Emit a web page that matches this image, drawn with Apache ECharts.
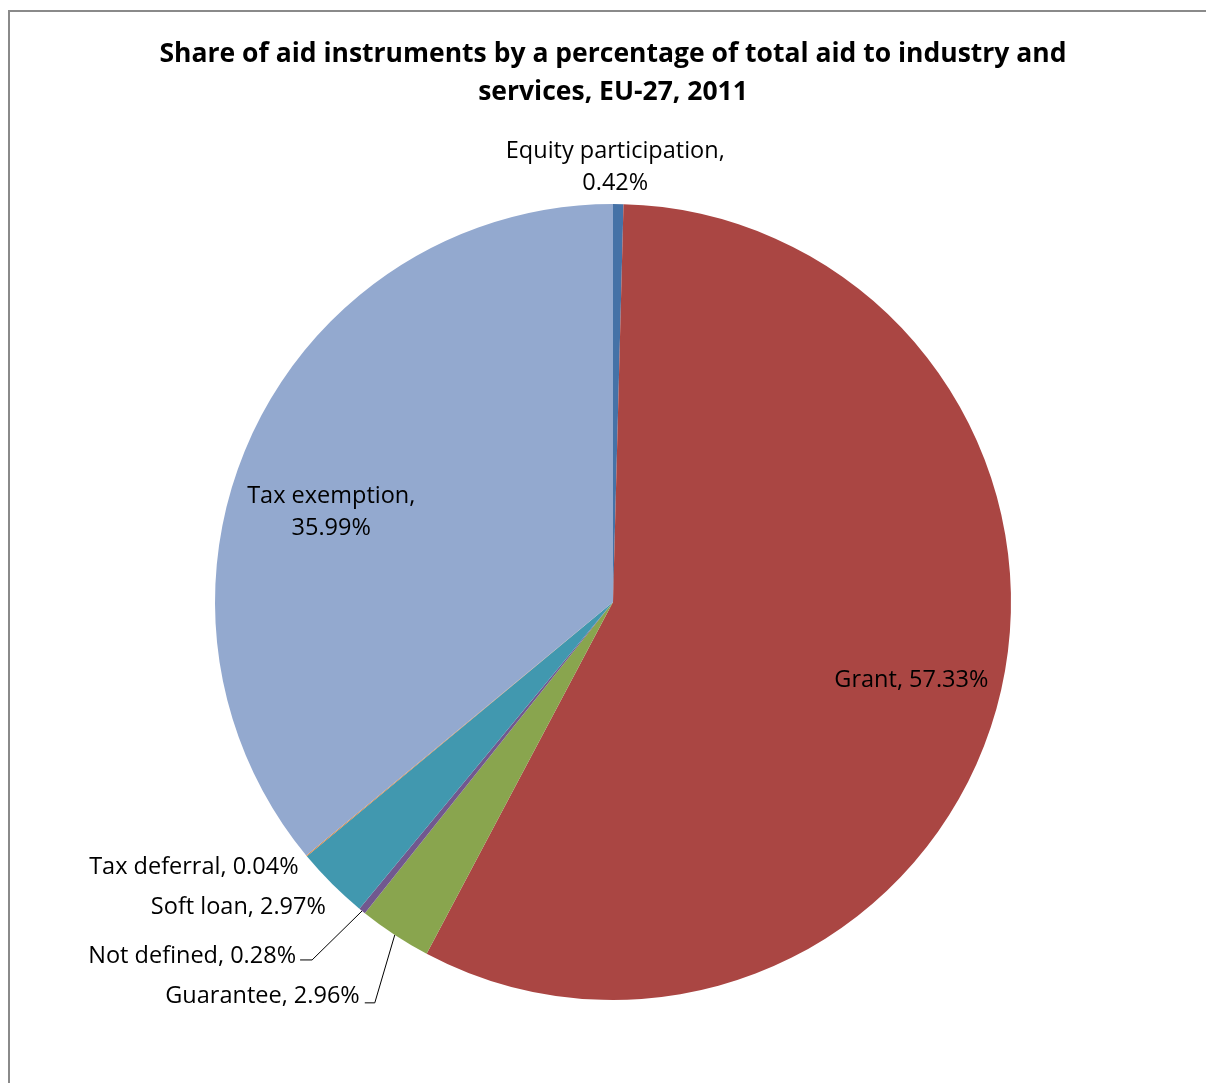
<!DOCTYPE html>
<html>
<head>
<meta charset="utf-8">
<script src="https://cdn.jsdelivr.net/npm/echarts@6/dist/echarts.min.js"></script>
<style>
html,body{margin:0;padding:0;background:#fff;}
#chart{width:1206px;height:1083px;}
</style>
</head>
<body>
<div id="chart"></div>
<script>
const categories = ['Equity participation', 'Grant', 'Guarantee', 'Not defined', 'Soft loan', 'Tax deferral', 'Tax exemption'];
const shares = [0.42, 57.33, 2.96, 0.28, 2.97, 0.04, 35.99];
const sliceColors = ['#4572A7', '#AA4643', '#89A54E', '#71588F', '#4198AF', '#DB843D', '#93A9CF'];
const titleText = 'Share of aid instruments by a percentage of total aid to industry and\nservices, EU-27, 2011';

// label placement relative to the slice's outer edge point (library computed)
const outsidePlace = {
  0: { dx: -3, dy: -5, align: 'center', va: 'bottom' },
  2: { line: [[-20, 68], [-30, 68]], dx: -35, dy: 61, align: 'right', va: 'middle' },
  3: { line: [[-50, 49], [-62, 49]], dx: -66, dy: 45, align: 'right', va: 'middle' },
  4: { dx: -6, dy: 24, align: 'right', va: 'middle' },
  5: { dx: -8, dy: 11, align: 'right', va: 'middle' }
};
const insideShift = {
  1: { dx: 103, dy: 27 },
  6: { dx: -99, dy: -4 }
};

const chart = echarts.init(document.getElementById('chart'), null, { renderer: 'canvas' });

const data = categories.map((name, i) => {
  const inside = insideShift[i] != null;
  const place = outsidePlace[i];
  return {
    name: name,
    value: shares[i],
    itemStyle: { color: sliceColors[i] },
    label: {
      position: inside ? 'inside' : 'outside',
      formatter: (i === 0 || i === 6) ? '{b},\n{c}%' : '{b}, {c}%'
    },
    labelLine: {
      show: !inside,
      length: 10,
      length2: 5,
      lineStyle: { color: '#000', width: 1, opacity: (place && place.line) ? 1 : 0 }
    }
  };
});

chart.setOption({
  backgroundColor: '#ffffff',
  animation: false,
  title: {
    text: titleText,
    left: 608,
    textAlign: 'center',
    top: 30,
    textStyle: {
      fontFamily: 'Open Sans',
      fontWeight: 'bold',
      fontSize: 26.5,
      lineHeight: 38,
      color: '#000'
    }
  },
  graphic: [{
    type: 'rect',
    shape: { x: 9, y: 11, width: 1400, height: 1300 },
    style: { fill: 'none', stroke: '#8a8a8a', lineWidth: 2 },
    silent: true
  }],
  series: [{
    type: 'pie',
    center: [613, 602],
    radius: [0, 398],
    startAngle: 90,
    clockwise: true,
    avoidLabelOverlap: false,
    itemStyle: { borderWidth: 0 },
    emphasis: { disabled: true },
    label: {
      fontFamily: 'Open Sans',
      fontSize: 23.5,
      lineHeight: 32,
      color: '#000',
      align: 'center'
    },
    labelLayout: function (p) {
      const ins = insideShift[p.dataIndex];
      if (ins) {
        return { dx: ins.dx, dy: ins.dy };
      }
      const pl = outsidePlace[p.dataIndex];
      if (!pl || !p.labelLinePoints) return {};
      const s = p.labelLinePoints[0];
      const out = {
        x: s[0] + pl.dx,
        y: s[1] + pl.dy,
        align: pl.align,
        verticalAlign: pl.va
      };
      if (pl.line) {
        out.labelLinePoints = [
          [s[0], s[1]],
          [s[0] + pl.line[0][0], s[1] + pl.line[0][1]],
          [s[0] + pl.line[1][0], s[1] + pl.line[1][1]]
        ];
      } else {
        out.labelLinePoints = [[s[0], s[1]], [s[0], s[1]], [s[0], s[1]]];
      }
      return out;
    },
    data: data
  }]
});
</script>
</body>
</html>
